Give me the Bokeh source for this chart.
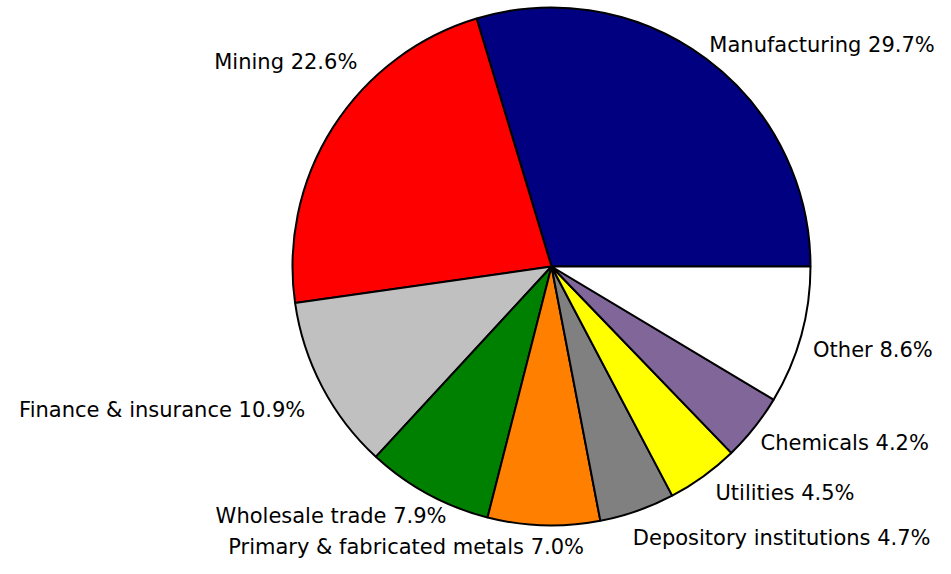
import math
from bokeh.plotting import figure
from bokeh.models import Range1d
from bokeh.core.properties import value
from bokeh.embed import file_html
from bokeh.resources import INLINE

categories = ["Manufacturing", "Mining", "Finance & insurance", "Wholesale trade",
              "Primary & fabricated metals", "Depository institutions", "Utilities",
              "Chemicals", "Other"]
shares = [29.7, 22.6, 10.9, 7.9, 7.0, 4.7, 4.5, 4.2, 8.6]
colors = ["#000080", "#ff0000", "#c0c0c0", "#008000", "#ff8000", "#808080",
          "#ffff00", "#806699", "#ffffff"]

# label nudges (pixels, y up) relative to the 1.1-radius anchor
label_dx = [-12, 46, 6, 31, 41, -13, -3, -14, -13]
label_dy = [-7, 51, -11, 1, 4, -3, 4, 1, -8]

W, H = 935, 558
cx, cy = 551, 266  # pie center in figure pixels (from top-left)
R = 259

p = figure(width=W, height=H, output_backend="svg", toolbar_location=None,
           x_range=Range1d(-cx, W - cx), y_range=Range1d(-(H - cy), cy),
           min_border=0)
p.axis.visible = False
p.grid.visible = False
p.outline_line_color = None
p.background_fill_color = "white"
p.border_fill_color = "white"

total = sum(shares)
start = 0.0
starts, ends, mids = [], [], []
for s in shares:
    a0 = start
    a1 = start + s / total * 2 * math.pi
    starts.append(a0)
    ends.append(a1)
    mids.append((a0 + a1) / 2)
    start = a1

p.wedge(x=0, y=0, radius=R, start_angle=starts, end_angle=ends,
        direction="anticlock", fill_color=colors, line_color="black",
        line_width=2)

for i, (cat, s, m) in enumerate(zip(categories, shares, mids)):
    ax = 1.1 * R * math.cos(m)
    ay = 1.1 * R * math.sin(m)
    align = "left" if math.cos(m) > 0 else "right"
    p.text(x=[ax + label_dx[i]], y=[ay + label_dy[i]], text=[f"{cat} {s:.1f}%"],
           text_align=align, text_baseline="middle",
           text_font=value("DejaVu Sans"), text_font_size="21px",
           text_color="black")

open("out.html", "w").write(file_html(p, INLINE))
